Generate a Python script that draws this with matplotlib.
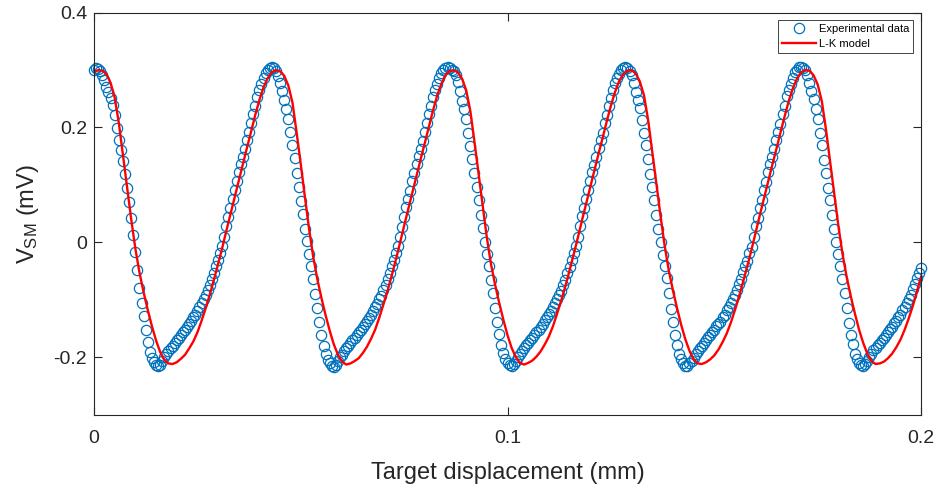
"""Self-mixing signal: measured samples against the L-K model fit."""
import matplotlib
matplotlib.use("Agg")
import matplotlib.pyplot as plt
import numpy as np

# displacement step between stored samples (mm)
EXP_STEP = 0.0005
MODEL_STEP = 0.001

# measured V_SM (mV), one value per EXP_STEP starting at 0 mm
exp_vsm = [
    # fringe 1
    .300, .303, .302, .298, .292, .283, .271, .262, .252, .240,
    .222, .199, .179, .161, .142, .119, .095, .070, .042, .013,
    -.017, -.049, -.080, -.106, -.129, -.152, -.174, -.191, -.202, -.209,
    -.214, -.216, -.214, -.206, -.200, -.195, -.189, -.184, -.180, -.175,
    -.171, -.166, -.162, -.157, -.152, -.147, -.142, -.137, -.131, -.126,
    -.119, -.112, -.106, -.099, -.092, -.083, -.074, -.064, -.053, -.042,
    -.031, -.018, -.007, .010, .028, .044, .060, .075, .091, .106,
    .122, .136, .149, .163, .178, .192, .207, .223, .238, .253,
    .266, .276, .286, .295, .301, .304, .306, .304,
    # fringe 2
    .299, .290, .278, .264, .248, .232, .214, .192, .169, .146,
    .120, .097, .072, .049, .024, .002, -.021, -.042, -.064, -.090,
    -.115, -.138, -.161, -.180, -.194, -.205, -.211, -.215, -.217, -.213,
    -.206, -.200, -.196, -.189, -.185, -.180, -.176, -.171, -.167, -.162,
    -.157, -.153, -.147, -.143, -.137, -.132, -.126, -.120, -.112, -.107,
    -.099, -.093, -.083, -.075, -.064, -.054, -.042, -.030, -.018, -.006,
    .010, .027, .044, .061, .075, .090, .106, .121, .136, .150,
    .163, .177, .192, .208, .223, .237, .253, .265, .276, .287,
    .295, .301, .304, .306, .304, .300,
    # fringe 3
    .298, .291, .279, .263, .247, .233, .215, .191, .168, .145,
    .121, .096, .073, .047, .025, .001, -.020, -.041, -.065, -.089,
    -.114, -.139, -.160, -.179, -.193, -.204, -.210, -.214, -.216, -.212,
    -.207, -.200, -.195, -.190, -.184, -.179, -.175, -.170, -.166, -.161,
    -.157, -.152, -.148, -.142, -.136, -.131, -.125, -.119, -.113, -.106,
    -.098, -.091, -.084, -.074, -.065, -.053, -.043, -.031, -.019, -.007,
    .009, .028, .045, .060, .076, .091, .107, .122, .135, .149,
    .164, .178, .191, .207, .222, .238, .252, .266, .277, .286,
    .294, .300, .304, .305, .304,
    # fringe 4
    .299, .292, .278, .262, .248, .234, .213, .191, .170, .145,
    .119, .096, .074, .048, .023, .001, -.022, -.041, -.063, -.089,
    -.116, -.139, -.162, -.179, -.195, -.204, -.211, -.215, -.216, -.211,
    -.206, -.201, -.194, -.189, -.185, -.180, -.176, -.171, -.165, -.162,
    -.156, -.152, -.146, -.142, -.138, -.131, -.126, -.118, -.112, -.105,
    -.099, -.091, -.083, -.073, -.064, -.052, -.042, -.032, -.018, -.008,
    .010, .029, .043, .060, .074, .091, .105, .122, .137, .149,
    .162, .178, .193, .206, .224, .238, .254, .266, .275, .286,
    .296, .301, .305, .306, .303,
    # fringe 5
    .300, .291, .277, .263, .249, .232, .214, .190, .169, .144,
    .120, .095, .073, .048, .024, .000, -.021, -.042, -.064, -.088,
    -.115, -.140, -.161, -.178, -.194, -.203, -.210, -.214, -.215, -.212,
    -.206, -.199, -.195, -.188, -.184, -.179, -.175, -.170, -.166, -.161,
    -.157, -.151, -.147, -.141, -.137, -.130, -.126, -.118, -.112, -.106,
    -.098, -.092, -.082, -.073, -.063, -.053, -.044,
]

# L-K model V_SM (mV), one value per MODEL_STEP starting at 0 mm
model_vsm = [
    .296, .300, .299, .293, .278, .252, .208, .152, .096, .040,
    -.011, -.053, -.087, -.118, -.146, -.171, -.191, -.205, -.211, -.212,
    -.209, -.203, -.196, -.185, -.173, -.157, -.137, -.115, -.091, -.065,
    -.038, -.010, .020, .049, .078, .107, .136, .165, .193, .222,
    .248, .270, .286, .296, .300, .298, .290, .273, .243, .191,
    .136, .079, .024, -.025, -.064, -.097, -.127, -.154, -.178, -.196,
    -.208, -.213, -.211, -.207, -.202, -.193, -.182, -.168, -.152, -.131,
    -.108, -.084, -.058, -.030, -.001, .029, .058, .087, .116, .145,
    .173, .202, .230, .256, .276, .291, .298, .300, .296, .285,
    .265, .229, .175, .119, .062, .008, -.038, -.074, -.106, -.135,
    -.162, -.184, -.200, -.210, -.213, -.210, -.206, -.199, -.190, -.178,
    -.164, -.146, -.124, -.101, -.076, -.049, -.021, .008, .038, .067,
    .096, .125, .154, .182, .211, .238, .262, .281, .293, .299,
    .300, .294, .280, .256, .213, .158, .102, .046, -.006, -.049,
    -.084, -.115, -.144, -.169, -.189, -.204, -.211, -.212, -.209, -.204,
    -.197, -.187, -.174, -.159, -.140, -.118, -.094, -.068, -.041, -.013,
    .017, .047, .076, .105, .134, .162, .191, .219, .246, .268,
    .285, .296, .300, .299, .291, .275, .246, .197, .141, .084,
    .029, -.020, -.060, -.094, -.124, -.152, -.175, -.194, -.207, -.212,
    -.211, -.208, -.202, -.194, -.183, -.170, -.153, -.133, -.111, -.086,
    -.060,
]

x_ticks = [0, 0.1, 0.2]
x_ticklabels = ["0", "0.1", "0.2"]
y_ticks = [-0.2, 0, 0.2, 0.4]
y_ticklabels = ["-0.2", "0", "0.2", "0.4"]

AX_COLOR = "#262626"


def main() -> None:
    plt.rcParams["font.family"] = ["Liberation Sans", "DejaVu Sans"]
    plt.rcParams["mathtext.fontset"] = "custom"
    plt.rcParams["mathtext.rm"] = "Liberation Sans"

    exp_x = np.arange(len(exp_vsm)) * EXP_STEP
    model_x = np.arange(len(model_vsm)) * MODEL_STEP

    fig = plt.figure(figsize=(9.41, 4.86), dpi=100)
    ax = fig.add_axes([0.0999, 0.1471, 0.8789, 0.8268])

    ax.plot(exp_x, exp_vsm, "o", mfc="none", mec="#0072BD", ms=7.4, mew=0.9,
            clip_on=False, label="Experimental data")
    ax.plot(model_x, model_vsm, "-", color="#FF0000", lw=1.7, label="L-K model")

    ax.set_xlim(0, 0.2)
    ax.set_ylim(-0.3, 0.4)
    ax.set_xticks(x_ticks, x_ticklabels)
    ax.set_yticks(y_ticks, y_ticklabels)
    ax.tick_params(direction="in", top=True, right=True, length=5.5, width=0.8,
                   colors=AX_COLOR, labelsize=14)
    ax.tick_params(axis="x", pad=11)
    ax.tick_params(axis="y", pad=5)
    for sp in ax.spines.values():
        sp.set_color(AX_COLOR)
        sp.set_linewidth(0.8)

    ax.set_xlabel("Target displacement (mm)", fontsize=17, color=AX_COLOR, labelpad=11)
    ax.set_ylabel(r"$\mathregular{V_{SM}}$ (mV)", fontsize=17, color=AX_COLOR, labelpad=9)

    leg = ax.legend(loc="upper right", fontsize=8, frameon=True, fancybox=False,
                    edgecolor=AX_COLOR, framealpha=1, borderpad=0.35,
                    labelspacing=0.45, handlelength=3, handletextpad=0.3,
                    borderaxespad=0.7)
    leg.get_frame().set_linewidth(0.6)

    fig.savefig("out.png", dpi=100)


if __name__ == "__main__":
    main()
